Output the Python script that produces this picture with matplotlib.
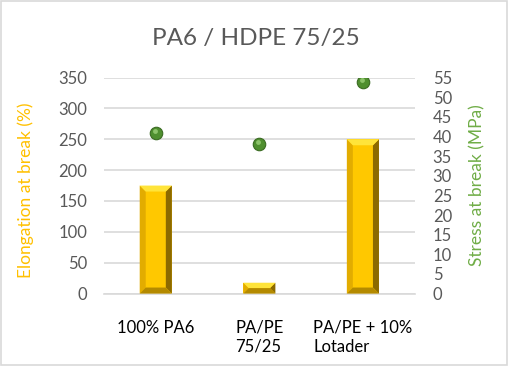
import matplotlib
matplotlib.use("Agg")
import matplotlib.pyplot as plt
import matplotlib.patches as mpatches
from matplotlib.patches import Polygon
import numpy as np

plt.rcParams['font.family'] = ['Lato', 'DejaVu Sans']

# data
categories = ["100% PA6", "PA/PE\n75/25", "PA/PE + 10%\nLotader"]
elongation = [175, 17.5, 250]   # % (left axis, bars)
stress = [41, 38, 54]           # MPa (right axis, spheres)

GOLD = "#FFC000"
GREEN = "#70AD47"
GREY = "#595959"

fig = plt.figure(figsize=(5.11, 3.66), dpi=100)
ax = fig.add_axes([0.2035, 0.198, 0.608, 0.590])
ax2 = ax.twinx()

x = np.arange(len(categories))
w = 0.31
ax.bar(x, elongation, width=w, color="#FFC800", zorder=2)

# 45-degree bevel faces computed from each bar
bx, by = 0.058, 9.7
for xi, h in zip(x, elongation):
    l, r = xi - w / 2, xi + w / 2
    b = min(by, h / 2)
    k = bx * b / by
    faces = [
        ([(l, 0), (l, h), (l + k, h - b), (l + k, b)], "#E2AC00"),        # left
        ([(r, 0), (r, h), (r - k, h - b), (r - k, b)], "#8C6A00"),        # right
        ([(l, h), (r, h), (r - k, h - b), (l + k, h - b)], "#FFE43A"),    # top
        ([(l, 0), (r, 0), (r - k, b), (l + k, b)], "#B48A00"),            # bottom
    ]
    for pts, c in faces:
        ax.add_patch(Polygon(pts, closed=True, facecolor=c, edgecolor="none", zorder=3))

ax.set_ylim(0, 350)
ax.set_yticks(np.arange(0, 351, 50))
ax.set_xlim(-0.5, len(categories) - 0.5)
ax.set_xticks(x)
ax.set_xticklabels(categories, fontsize=12, color="#000000",
                   linespacing=1.2, multialignment="left")
ax.grid(True, axis="y", color="#D9D9D9", linewidth=1.2, zorder=0)
ax.set_axisbelow(True)
ax.tick_params(axis="y", length=0, labelsize=12, labelcolor=GREY, pad=12)
ax.tick_params(axis="x", length=0, pad=19)
for s in ["top", "left", "right"]:
    ax.spines[s].set_visible(False)
ax.spines["bottom"].set_color("#D9D9D9")
ax.spines["bottom"].set_linewidth(1.2)
ax.set_ylabel("Elongation at break (%)", color=GOLD, fontsize=12.5)
ax.yaxis.set_label_coords(-0.225, 0.48)

ax2.plot(x, stress, "o", markersize=9, markerfacecolor="#4F8F2F",
         markeredgecolor="#3A6B22", markeredgewidth=0.8, zorder=4)
ax2.plot(x - 0.012, np.array(stress) + 0.5, "o", markersize=3.5,
         markerfacecolor="#8CC36A", markeredgecolor="none", zorder=5)
ax2.set_ylim(0, 55)
ax2.set_yticks(np.arange(0, 56, 5))
ax2.tick_params(axis="y", length=0, labelsize=12, labelcolor=GREY, pad=13)
for s in ["top", "left", "right", "bottom"]:
    ax2.spines[s].set_visible(False)
ax2.set_ylabel("Stress at break (MPa)", color=GREEN, fontsize=12.5)
ax2.yaxis.set_label_coords(1.175, 0.5)

fig.text(0.5, 0.895, "PA6 / HDPE 75/25", ha="center", va="center",
         fontsize=17.5, color=GREY)

fig.patches.append(mpatches.Rectangle((0.002, 0.003), 0.99, 0.994, transform=fig.transFigure,
                                      fill=False, edgecolor="#D9D9D9", linewidth=1.2))

fig.savefig("out.png", dpi=100)
